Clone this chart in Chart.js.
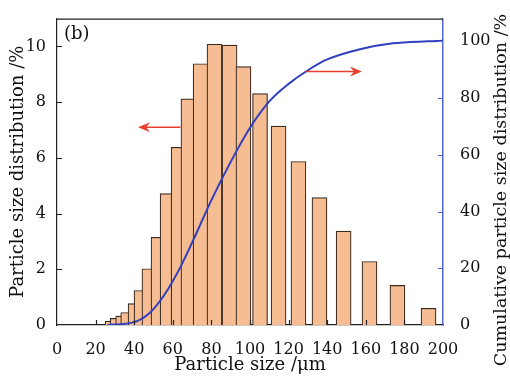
<!DOCTYPE html>
<html>
<head>
<meta charset="utf-8">
<script src="https://cdn.jsdelivr.net/npm/chart.js@4"></script>
<style>
  html, body { margin: 0; padding: 0; background: #fff; }
</style>
</head>
<body>
<canvas id="myChart" width="510" height="376"></canvas>
<script>
// Data
const sizes = [28.8, 31.4, 34.3, 36.9, 40.7, 43.8, 47.9, 52.6, 57.3, 63.0, 68.1, 74.4,
  81.6, 89.4, 96.6, 105.2, 114.8, 125.1, 136.0, 148.5, 161.9, 176.4, 192.5];
const dist = [0.14, 0.24, 0.32, 0.45, 0.77, 1.24, 2.02, 3.15, 4.72, 6.38, 8.12, 9.38,
  10.08, 10.05, 9.28, 8.31, 7.14, 5.87, 4.57, 3.37, 2.28, 1.42, 0.6];
const cumX = [26, 40, 48, 56, 64, 72, 80, 90, 100, 110, 120, 130, 140, 157, 174, 192, 200];
const cumY = [0, 1.0, 4.2, 11, 20.5, 32, 44, 57.5, 69.5, 78.8, 85, 89.8, 93.6, 97.2, 99.3, 100, 100.2];
const xTicks = [0, 20, 40, 60, 80, 100, 120, 140, 160, 180, 200];
const leftTicks = [0, 2, 4, 6, 8, 10];
const rightTicks = [0, 20, 40, 60, 80, 100];
// arrows: [fromX, toX, yLeft]
const arrows = [[64, 42, 7.1], [129, 158, 9.1]];

const serif = 'DejaVu Serif';
const blue = '#2f3fbf';
const axisBlue = '#5566cc';

const setTicks = (vals) => (scale) => { scale.ticks = vals.map((v) => ({ value: v })); };

// draws inward ticks, top border, arrows, panel label and right title
const extras = {
  id: 'extras',
  afterDraw(chart) {
    const { ctx, chartArea: a, scales } = chart;
    ctx.save();
    ctx.lineWidth = 1.2;
    ctx.strokeStyle = '#222';
    ctx.beginPath();
    ctx.moveTo(a.left, a.top + 0.5);
    ctx.lineTo(a.right, a.top + 0.5);
    xTicks.slice(1, -1).forEach((v) => {
      const px = Math.round(scales.x.getPixelForValue(v)) + 0.5;
      ctx.moveTo(px, a.bottom);
      ctx.lineTo(px, a.bottom - 5);
    });
    leftTicks.slice(1).forEach((v) => {
      const py = Math.round(scales.y.getPixelForValue(v)) + 0.5;
      ctx.moveTo(a.left, py);
      ctx.lineTo(a.left + 5, py);
    });
    ctx.stroke();
    ctx.strokeStyle = axisBlue;
    ctx.beginPath();
    rightTicks.slice(1).forEach((v) => {
      const py = Math.round(scales.y2.getPixelForValue(v)) + 0.5;
      ctx.moveTo(a.right, py);
      ctx.lineTo(a.right - 5, py);
    });
    ctx.stroke();

    // arrows
    ctx.strokeStyle = '#e8402e';
    ctx.fillStyle = '#e8402e';
    ctx.lineWidth = 1.6;
    arrows.forEach(([x0, x1, yv]) => {
      const p0 = scales.x.getPixelForValue(x0);
      const p1 = scales.x.getPixelForValue(x1);
      const py = scales.y.getPixelForValue(yv);
      const dir = Math.sign(p1 - p0);
      ctx.beginPath();
      ctx.moveTo(p0, py);
      ctx.lineTo(p1 - dir * 6, py);
      ctx.stroke();
      ctx.beginPath();
      ctx.moveTo(p1, py);
      ctx.lineTo(p1 - dir * 12, py - 5);
      ctx.lineTo(p1 - dir * 8, py);
      ctx.lineTo(p1 - dir * 12, py + 5);
      ctx.closePath();
      ctx.fill();
    });

    // panel label
    ctx.fillStyle = '#111';
    ctx.font = `18px "${serif}"`;
    ctx.textAlign = 'left';
    ctx.textBaseline = 'middle';
    ctx.fillText('(b)', a.left + 7, a.top + 16);

    // right title, reading bottom to top
    ctx.translate(501, 190);
    ctx.rotate(-Math.PI / 2);
    ctx.textAlign = 'center';
    ctx.font = `17.5px "${serif}"`;
    ctx.fillText('Cumulative particle size distribution /%', 0, 0);
    ctx.restore();
  },
};

const config = {
  type: 'bar',
  data: {
    datasets: [
      {
        type: 'line',
        data: cumX.map((x, i) => ({ x, y: cumY[i] })),
        yAxisID: 'y2',
        borderColor: blue,
        borderWidth: 2,
        pointRadius: 0,
        cubicInterpolationMode: 'monotone',
        order: 0,
      },
      {
        data: sizes.map((x, i) => ({ x, y: dist[i] })),
        yAxisID: 'y',
        backgroundColor: '#f6bd93',
        borderColor: '#3b2a20',
        borderWidth: 1.2,
        barThickness: 15,
        grouped: false,
        order: 1,
      },
    ],
  },
  options: {
    responsive: false,
    animation: false,
    devicePixelRatio: 1,
    layout: { padding: { top: 14, left: 0, right: 0, bottom: 0 } },
    plugins: { legend: { display: false }, tooltip: { enabled: false } },
    scales: {
      x: {
        type: 'linear',
        offset: false,
        min: 0,
        max: 200,
        afterBuildTicks: setTicks(xTicks),
        afterFit: (s) => { s.height = 51; },
        grid: { display: false, offset: false },
        border: { display: true, color: '#222', width: 1.2 },
        ticks: { color: '#111', padding: 7, maxRotation: 0, font: { family: serif, size: 16 } },
        title: {
          display: true,
          text: 'Particle size /\u03bcm',
          color: '#111',
          padding: 0,
          font: { family: serif, size: 18 },
        },
      },
      y: {
        position: 'left',
        min: 0,
        max: 11,
        afterBuildTicks: setTicks(leftTicks),
        afterFit: (s) => { s.width = 57; },
        grid: { display: false },
        border: { display: true, color: '#222', width: 1.2 },
        ticks: { color: '#111', padding: 3, font: { family: serif, size: 16 } },
        title: {
          display: true,
          text: 'Particle size distribution /%',
          color: '#111',
          padding: { top: 8, bottom: 0 },
          font: { family: serif, size: 18 },
        },
      },
      y2: {
        position: 'right',
        min: 0,
        max: 108,
        afterBuildTicks: setTicks(rightTicks),
        afterFit: (s) => { s.width = 67; },
        grid: { display: false },
        border: { display: true, color: axisBlue, width: 1.5 },
        ticks: { color: '#111', padding: 9, font: { family: serif, size: 16 } },
      },
    },
  },
  plugins: [extras],
};

// Rendering the chart
const myChart = new Chart(document.getElementById('myChart'), config);
</script>
</body>
</html>
